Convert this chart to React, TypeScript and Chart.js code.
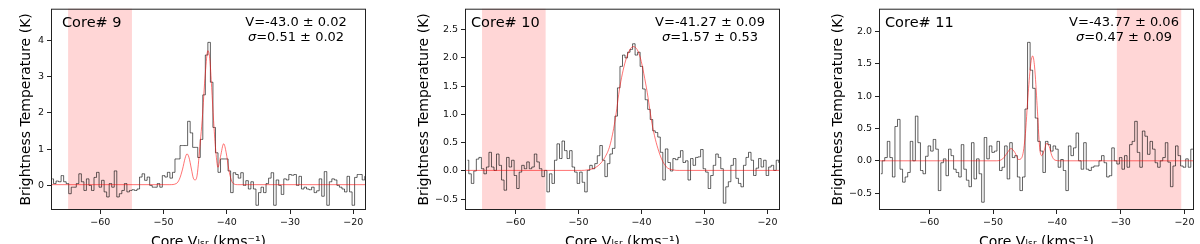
import React, { useEffect, useRef } from 'react';
import { Chart, registerables } from 'chart.js';

Chart.register(...registerables);
Chart.defaults.font.family = '"DejaVu Sans", sans-serif';

// Channel velocities (km/s), shared by all three spectra
const velocity = [
  -67.6, -67.2, -66.8, -66.4, -66.0, -65.6, -65.2, -64.8, -64.4, -64.0,
  -63.6, -63.2, -62.8, -62.4, -62.0, -61.6, -61.2, -60.8, -60.4, -60.0,
  -59.6, -59.2, -58.8, -58.4, -58.0, -57.6, -57.2, -56.8, -56.4, -56.0,
  -55.6, -55.2, -54.8, -54.4, -54.0, -53.6, -53.2, -52.8, -52.4, -52.0,
  -51.6, -51.2, -50.8, -50.4, -50.0, -49.6, -49.2, -48.8, -48.4, -48.0,
  -47.6, -47.2, -46.8, -46.4, -46.0, -45.6, -45.2, -44.8, -44.4, -44.0,
  -43.6, -43.2, -42.8, -42.4, -42.0, -41.6, -41.2, -40.8, -40.4, -40.0,
  -39.6, -39.2, -38.8, -38.4, -38.0, -37.6, -37.2, -36.8, -36.4, -36.0,
  -35.6, -35.2, -34.8, -34.4, -34.0, -33.6, -33.2, -32.8, -32.4, -32.0,
  -31.6, -31.2, -30.8, -30.4, -30.0, -29.6, -29.2, -28.8, -28.4, -28.0,
  -27.6, -27.2, -26.8, -26.4, -26.0, -25.6, -25.2, -24.8, -24.4, -24.0,
  -23.6, -23.2, -22.8, -22.4, -22.0, -21.6, -21.2, -20.8, -20.4, -20.0,
  -19.6, -19.2, -18.8, -18.4, -18.0,
];

// Brightness temperature (K) per channel
const core9T = [
  0.18, 0.05, 0.12, 0.10, 0.27, 0.10, 0.05, -0.23, -0.05, -0.05,
  0.05, 0.32, 0.10, -0.14, 0.18, 0.00, -0.14, 0.22, 0.36, -0.05,
  0.14, -0.18, -0.32, 0.05, -0.05, 0.40, -0.32, -0.23, -0.14, 0.05,
  -0.18, -0.14, -0.12, -0.14, -0.10, 0.23, 0.32, 0.14, 0.23, 0.00,
  -0.05, -0.05, 0.05, -0.05, 0.27, 0.23, 0.36, 0.20, 0.36, 0.73,
  0.73, 1.10, 1.10, 1.10, 1.77, 1.45, 1.05, 1.05, 0.77, 1.27,
  2.50, 3.60, 3.95, 2.85, 1.60, 0.90, 0.36, 0.73, 0.73, 0.73,
  0.40, -0.20, 0.35, 0.30, 0.20, 0.35, 0.00, 0.13, -0.10, 0.10,
  -0.10, -0.55, -0.20, -0.05, -0.20, 0.05, 0.20, 0.35, -0.55, 0.15,
  0.00, -0.25, 0.18, 0.15, 0.30, 0.28, 0.30, 0.00, 0.25, -0.10,
  -0.05, -0.10, -0.12, -0.05, -0.20, -0.15, 0.18, -0.30, 0.38, -0.55,
  0.10, 0.18, 0.15, 0.00, -0.05, -0.10, -0.18, 0.25, -0.18, -0.55,
  0.22, 0.30, 0.30, 0.15, 0.25,
];

const core10T = [
  0.19, -0.05, -0.22, 0.00, 0.21, 0.24, 0.04, -0.05, 0.07, 0.33,
  0.07, 0.01, 0.30, 0.10, -0.16, -0.34, 0.24, 0.07, 0.19, -0.08,
  -0.31, -0.02, 0.10, 0.04, 0.16, 0.04, 0.07, 0.30, 0.16, 0.04,
  -0.10, 0.01, -0.37, -0.05, -0.22, 0.19, 0.48, 0.22, 0.53, 0.36,
  0.22, 0.36, 0.07, -0.02, -0.22, -0.02, -0.20, -0.37, 0.01, 0.10,
  0.04, 0.13, 0.27, 0.45, 0.19, -0.10, 0.13, 0.30, 0.40, 0.97,
  1.47, 1.85, 2.05, 2.00, 2.10, 2.15, 2.25, 2.05, 2.10, 1.85,
  1.45, 1.26, 1.09, 0.91, 0.71, 0.68, 0.60, 0.33, -0.16, 0.39,
  0.15, 0.00, 0.22, 0.20, 0.24, 0.36, 0.15, 0.18, -0.16, 0.22,
  0.10, 0.24, 0.25, 0.38, 0.04, -0.02, -0.31, -0.08, 0.10, 0.30,
  0.24, 0.04, -0.57, -0.28, -0.19, 0.10, 0.22, -0.13, -0.22, -0.28,
  0.10, 0.24, 0.33, 0.19, -0.08, 0.05, 0.22, 0.07, 0.19, -0.08,
  0.07, 0.10, 0.01, 0.19, 0.15,
];

const core11T = [
  -0.20, 0.00, 0.05, 0.30, 0.05, -0.25, 0.53, 0.64, -0.13, -0.33,
  -0.25, -0.18, 0.30, 0.00, 0.69, 0.28, -0.15, -0.20, 0.07, 0.23,
  0.15, 0.33, 0.18, -0.46, -0.03, 0.03, -0.23, 0.18, 0.08, -0.13,
  -0.18, -0.25, 0.25, -0.13, -0.30, -0.40, 0.28, -0.28, 0.03, -0.20,
  -0.64, 0.36, 0.03, 0.23, 0.13, 0.15, 0.30, -0.15, -0.10, 0.23,
  -0.28, 0.28, 0.05, 0.08, -0.25, -0.46, -0.25, 0.80, 1.83, 1.40,
  1.12, 0.66, 0.30, 0.15, -0.18, 0.30, 0.25, 0.15, 0.23, 0.18,
  -0.10, 0.02, -0.15, -0.46, 0.23, 0.08, 0.20, 0.43, 0.00, -0.13,
  0.28, -0.13, -0.15, -0.10, -0.08, -0.08, 0.00, 0.08, -0.03, -0.25,
  -0.23, 0.20, 0.00, -0.05, 0.05, -0.13, 0.08, -0.10, 0.25, 0.30,
  0.61, 0.13, -0.10, 0.46, 0.38, 0.10, 0.30, 0.18, -0.03, -0.10,
  0.00, 0.05, 0.28, -0.02, -0.40, -0.08, 0.23, 0.08, -0.08, -0.10,
  0.03, -0.10, 0.18, 0.18, 0.10,
];

// Gaussian fit curves, sampled off the figure
const core9FitV = [-67.8, -49.0, -48.0, -47.5, -47.0, -46.6, -46.3, -46.0, -45.6, -45.3, -45.0, -44.7, -44.2, -43.9, -43.4, -43.0, -42.7, -42.4, -42.1, -41.8, -41.4, -41.0, -40.5, -40.1, -39.7, -39.3, -38.9, -38.3, -18.0];
const core9FitT = [0.02, 0.02, 0.05, 0.17, 0.45, 0.75, 0.87, 0.78, 0.45, 0.2, 0.15, 0.28, 1.2, 1.8, 3.1, 3.72, 3.5, 2.7, 1.8, 1.05, 0.5, 0.8, 1.15, 0.9, 0.45, 0.15, 0.04, 0.02, 0.02];

const core10FitV = [-68.0, -49.5, -48.5, -47.5, -46.6, -45.8, -45.0, -44.2, -43.4, -42.4, -41.3, -40.3, -39.2, -38.2, -37.1, -36.1, -35.0, -34.0, -18.0];
const core10FitT = [0.01, 0.01, 0.02, 0.05, 0.12, 0.24, 0.45, 0.88, 1.5, 1.99, 2.2, 2.05, 1.47, 0.77, 0.3, 0.08, 0.02, 0.01, 0.01];

const core11FitV = [-67.9, -49.5, -48.5, -47.8, -47.2, -46.6, -46.0, -45.5, -45.0, -44.5, -44.1, -43.8, -43.5, -43.1, -42.7, -42.4, -42.0, -41.6, -41.2, -40.8, -40.3, -39.5, -18.0];
const core11FitT = [0, 0, 0.03, 0.12, 0.19, 0.13, 0.02, 0.05, 0.35, 1.05, 1.5, 1.62, 1.45, 0.85, 0.2, 0.08, 0.16, 0.27, 0.22, 0.08, 0.01, 0, 0];

// Ticks
const xTickValues = [-60, -50, -40, -30, -20];
const core9YTicks = [0, 1, 2, 3, 4];
const core10YTicks = [-0.5, 0, 0.5, 1, 1.5, 2, 2.5];
const core11YTicks = [-0.5, 0, 0.5, 1, 1.5, 2];

// Shaded baseline windows (km/s)
const core9Window = [-65.1, -55.0];
const core10Window = [-65.3, -55.2];
const core11Window = [-30.6, -20.5];

// Labels
const coreNames = ['Core# 9', 'Core# 10', 'Core# 11'];
const velocityLabels = ['V=-43.0 \u00b1 0.02', 'V=-41.27 \u00b1 0.09', 'V=-43.77 \u00b1 0.06'];
const sigmaLabels = ['=0.51 \u00b1 0.02', '=1.57 \u00b1 0.53', '=0.47 \u00b1 0.09'];
const yTitle = 'Brightness Temperature (K)';
const xTitle = 'Core V\u2097\u209b\u1d63 (kms\u207b\u00b9)';

type PanelCfg = {
  idx: number;
  left: number;
  axisLeft: number;
  padRight: number;
  xMin: number;
  xMax: number;
  yMin: number;
  yMax: number;
  yTicks: number[];
  decimals: number;
  temps: number[];
  fitV: number[];
  fitT: number[];
  window: number[];
  nameDx: number;
  yTitleX: number;
};

const panels: PanelCfg[] = [
  { idx: 0, left: 0, axisLeft: 51, padRight: 34, xMin: -67.8, xMax: -18.0, yMin: -0.68, yMax: 4.88, yTicks: core9YTicks, decimals: 0, temps: core9T, fitV: core9FitV, fitT: core9FitT, window: core9Window, nameDx: 11, yTitleX: 26 },
  { idx: 1, left: 400, axisLeft: 65, padRight: 20, xMin: -68.0, xMax: -18.0, yMin: -0.69, yMax: 2.87, yTicks: core10YTicks, decimals: 1, temps: core10T, fitV: core10FitV, fitT: core10FitT, window: core10Window, nameDx: 6, yTitleX: 24 },
  { idx: 2, left: 800, axisLeft: 79, padRight: 6, xMin: -67.9, xMax: -18.5, yMin: -0.76, yMax: 2.35, yTicks: core11YTicks, decimals: 1, temps: core11T, fitV: core11FitV, fitT: core11FitT, window: core11Window, nameDx: 6, yTitleX: 38 },
];

const minusify = (s: string) => s.replace('-', '\u2212');
const FONT = '"DejaVu Sans", sans-serif';

function Panel({ cfg }: { cfg: PanelCfg }) {
  const ref = useRef<HTMLCanvasElement>(null);

  useEffect(() => {
    const canvas = ref.current;
    if (!canvas) return;

    const shadePlugin = {
      id: 'shade',
      beforeDatasetsDraw(chart: any) {
        const { ctx, chartArea: ca, scales } = chart;
        const x0 = scales.x.getPixelForValue(cfg.window[0]);
        const x1 = scales.x.getPixelForValue(cfg.window[1]);
        ctx.save();
        ctx.fillStyle = 'rgba(255,0,0,0.16)';
        ctx.fillRect(x0, ca.top, x1 - x0, ca.bottom - ca.top);
        ctx.restore();
      },
    };

    const framePlugin = {
      id: 'frame',
      afterDraw(chart: any) {
        const { ctx, chartArea: ca } = chart;
        ctx.save();
        ctx.strokeStyle = '#222';
        ctx.lineWidth = 1;
        ctx.strokeRect(ca.left + 0.5, ca.top + 0.5, ca.right - ca.left - 1, ca.bottom - ca.top - 1);

        ctx.fillStyle = '#000';
        ctx.textBaseline = 'middle';
        ctx.textAlign = 'left';
        ctx.font = `14.5px ${FONT}`;
        ctx.fillText(coreNames[cfg.idx], ca.left + cfg.nameDx, ca.top + 15);

        const cx = ca.left + 245;
        ctx.font = `13px ${FONT}`;
        ctx.textAlign = 'center';
        ctx.fillText(velocityLabels[cfg.idx], cx, ca.top + 14);

        ctx.textAlign = 'left';
        ctx.font = `italic 13px ${FONT}`;
        const ws = ctx.measureText('\u03c3').width;
        ctx.font = `13px ${FONT}`;
        const wr = ctx.measureText(sigmaLabels[cfg.idx]).width;
        const start = cx - (ws + wr) / 2;
        ctx.font = `italic 13px ${FONT}`;
        ctx.fillText('\u03c3', start, ca.top + 29);
        ctx.font = `13px ${FONT}`;
        ctx.fillText(sigmaLabels[cfg.idx], start + ws, ca.top + 29);
        ctx.restore();
      },
    };

    const chart = new Chart(canvas, {
      type: 'line',
      data: {
        datasets: [
          {
            label: 'fit',
            data: cfg.fitV.map((x, i) => ({ x, y: cfg.fitT[i] })),
            borderColor: 'rgba(255,0,0,0.55)',
            borderWidth: 1,
            pointRadius: 0,
            cubicInterpolationMode: 'monotone',
            fill: false,
            order: 0,
          },
          {
            label: 'spectrum',
            data: velocity.map((x, i) => ({ x, y: cfg.temps[i] })),
            borderColor: 'rgba(0,0,0,0.62)',
            borderWidth: 1,
            pointRadius: 0,
            stepped: 'middle',
            fill: false,
            order: 1,
          },
        ],
      },
      options: {
        animation: false,
        responsive: false,
        maintainAspectRatio: false,
        events: [],
        layout: { padding: { left: 0, right: cfg.padRight, top: 6, bottom: 0 } },
        plugins: { legend: { display: false }, tooltip: { enabled: false } },
        scales: {
          x: {
            type: 'linear',
            min: cfg.xMin,
            max: cfg.xMax,
            afterFit: (s: any) => { s.height = 50; },
            afterBuildTicks: (s: any) => { s.ticks = xTickValues.map((v) => ({ value: v })); },
            ticks: {
              autoSkip: false,
              maxRotation: 0,
              padding: 3,
              color: '#111',
              font: { size: 9.5 },
              callback: (v: any) => minusify(String(v)),
            },
            grid: { display: true, drawOnChartArea: false, drawTicks: true, tickLength: 4, color: '#222', lineWidth: 1 },
            border: { display: false },
            title: {
              display: true,
              text: xTitle,
              color: '#000',
              font: { size: 14 },
              padding: { top: 0, bottom: 9.5 },
            },
          },
          y: {
            type: 'linear',
            min: cfg.yMin,
            max: cfg.yMax,
            afterFit: (s: any) => { s.width = cfg.axisLeft; },
            afterBuildTicks: (s: any) => { s.ticks = cfg.yTicks.map((v) => ({ value: v })); },
            ticks: {
              autoSkip: false,
              padding: 3,
              color: '#111',
              font: { size: 9.5 },
              callback: (v: any) => minusify(Number(v).toFixed(cfg.decimals)),
            },
            grid: { display: true, drawOnChartArea: false, drawTicks: true, tickLength: 4, color: '#222', lineWidth: 1 },
            border: { display: false },
            title: {
              display: true,
              text: yTitle,
              color: '#000',
              font: { size: 14 },
              padding: { top: cfg.yTitleX - 8.4, bottom: 0 },
            },
          },
        },
      } as any,
      plugins: [shadePlugin, framePlugin],
    });

    return () => chart.destroy();
  }, [cfg]);

  return (
    <canvas
      ref={ref}
      width={400}
      height={260}
      style={{ position: 'absolute', left: cfg.left, top: 0, width: 400, height: 260, display: 'block' }}
    />
  );
}

export default function App() {
  useEffect(() => {
    document.body.style.margin = '0';
    document.body.style.background = '#fff';
  }, []);
  return (
    <div style={{ position: 'relative', width: 1200, height: 244, overflow: 'hidden', background: '#fff' }}>
      {panels.map((p) => (
        <Panel key={p.idx} cfg={p} />
      ))}
    </div>
  );
}
